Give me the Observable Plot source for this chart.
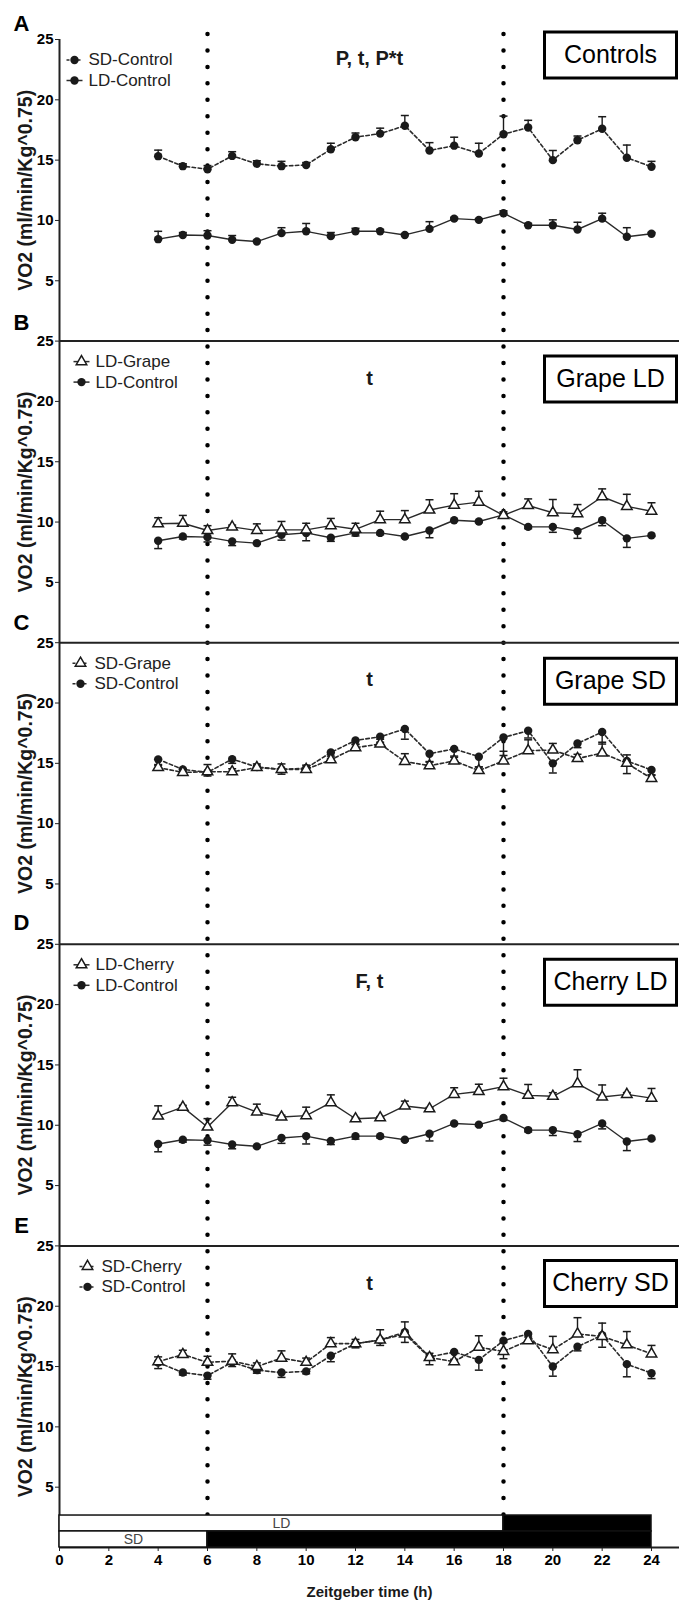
<!DOCTYPE html>
<html>
<head>
<meta charset="utf-8">
<script src="https://cdn.jsdelivr.net/npm/d3@7"></script>
<script src="https://cdn.jsdelivr.net/npm/@observablehq/plot@0.6"></script>
<style>
  html, body { margin: 0; padding: 0; background: #fff; }
  #chart svg { display: block; }
</style>
</head>
<body>
<div id="chart"></div>
<script>
// ---------- data ----------
const hours = [4,5,6,7,8,9,10,11,12,13,14,15,16,17,18,19,20,21,22,23,24];

const sdControl    = [15.33,14.5,14.25,15.35,14.7,14.5,14.6,15.9,16.9,17.2,17.85,15.8,16.2,15.55,17.15,17.7,15.0,16.65,17.6,15.2,14.45];
const sdControlSem = [0.5,0.2,0.3,0.35,0.25,0.4,0.2,0.5,0.35,0.45,0.85,0.65,0.7,0.85,1.5,0.6,0.8,0.35,1.0,1.05,0.45];

const ldControl    = [8.45,8.8,8.75,8.4,8.25,8.95,9.1,8.7,9.1,9.1,8.8,9.3,10.15,10.05,10.6,9.6,9.6,9.25,10.15,8.65,8.9];
const ldControlSem = [0.65,0.2,0.4,0.35,0.1,0.45,0.65,0.3,0.25,0.15,0.1,0.6,0.1,0.1,0.2,0.15,0.45,0.6,0.45,0.75,0.1];

const ldGrape    = [9.86,9.9,9.3,9.6,9.3,9.35,9.35,9.7,9.4,10.2,10.2,11.0,11.4,11.65,10.55,11.37,10.77,10.7,12.1,11.3,10.9];
const ldGrapeSem = [0.5,0.65,0.4,0.15,0.55,0.7,0.55,0.6,0.5,0.7,0.75,0.85,0.95,0.9,0.3,0.55,1.1,0.75,0.65,1.0,0.7];

const sdGrape    = [14.65,14.25,14.3,14.3,14.65,14.5,14.5,15.3,16.3,16.6,15.15,14.8,15.2,14.4,15.2,16.05,16.1,15.4,15.85,15.0,13.75];
const sdGrapeSem = [0.25,0.3,0.6,0.25,0.3,0.45,0.35,0.3,0.3,0.4,0.65,0.3,0.4,0.3,0.8,0.9,0.55,0.35,0.9,0.7,0.3];

const ldCherry    = [10.76,11.5,9.85,11.87,11.1,10.68,10.8,11.87,10.54,10.62,11.6,11.37,12.56,12.8,13.2,12.48,12.4,13.45,12.34,12.56,12.25];
const ldCherrySem = [0.85,0.15,0.7,0.45,0.65,0.15,0.7,0.65,0.1,0.1,0.4,0.1,0.55,0.6,0.7,0.9,0.3,1.15,1.0,0.15,0.8];

const sdCherry    = [15.4,16.0,15.35,15.45,15.0,15.7,15.35,16.9,16.9,17.2,17.7,15.75,15.4,16.6,16.25,17.15,16.4,17.7,17.5,16.8,16.05];
const sdCherrySem = [0.4,0.35,0.5,0.6,0.3,0.6,0.35,0.5,0.35,0.85,1.0,0.35,0.2,0.95,0.75,0.3,1.1,1.35,1.1,1.1,0.7];

const panelIds    = ["A","B","C","D","E"];
const panelTitles = ["Controls","Grape LD","Grape SD","Cherry LD","Cherry SD"];
const panelStats  = ["P, t, P*t","t","t","F, t","t"];
const yTicks = [5,10,15,20,25];
const xTicks = [0,2,4,6,8,10,12,14,16,18,20,22,24];
const yLabel = "VO2 (ml/min/Kg^0.75)";
const xLabel = "Zeitgeber time (h)";
const lightOnsets = [6, 18];              // dotted reference lines (h)
const photoperiods = [                    // light / dark bars
  {label: "LD", lightEnd: 18, end: 24},
  {label: "SD", lightEnd: 6,  end: 24}
];

// ---------- configuration ----------
function S(name, values, sem, sym, dashed, dir) { return {name, values, sem, sym, dashed, dir}; }
const panels = [
  {id: "A", series: [S("SD-Control", sdControl, sdControlSem, "circle", true, 1),
                     S("LD-Control", ldControl, ldControlSem, "circle", false, 1)]},
  {id: "B", series: [S("LD-Grape", ldGrape, ldGrapeSem, "triangle", false, 1),
                     S("LD-Control", ldControl, ldControlSem, "circle", false, -1)]},
  {id: "C", series: [S("SD-Grape", sdGrape, sdGrapeSem, "triangle", true, 1),
                     S("SD-Control", sdControl, sdControlSem, "circle", true, -1)]},
  {id: "D", series: [S("LD-Cherry", ldCherry, ldCherrySem, "triangle", false, 1),
                     S("LD-Control", ldControl, ldControlSem, "circle", false, -1)]},
  {id: "E", series: [S("SD-Cherry", sdCherry, sdCherrySem, "triangle", true, 1),
                     S("SD-Control", sdControl, sdControlSem, "circle", true, -1)]}
];

const rows = panels.flatMap(p => p.series.flatMap(s => hours.map((h, i) => ({
  panel: p.id, key: p.id + "|" + s.name, name: s.name, hour: h,
  value: s.values[i], sem: s.sem[i], dir: s.dir, dashed: s.dashed, sym: s.sym
}))));

const W = 679, H = 1601, ML = 59, MR = 0, MT = 39, MB = 54;
const facetH = (H - MT - MB) / panelIds.length;
const pxPerUnit = facetH / 25;
const ldBand = [1.33, 2.65], sdBand = [0, 1.33];
const INK = "#1a1a1a";
const FONT = "'Liberation Sans', Arial, Helvetica, sans-serif";
const DOT_PERIOD = 16.45, DOT_OVERSHOOT = 5;

// custom symbols
const capSymbol = {draw(ctx, size) { const w = Math.sqrt(size / Math.PI); ctx.moveTo(-w, 0); ctx.lineTo(w, 0); }};
const boxSymbol = {draw(ctx) { ctx.rect(-66, -23, 132, 46); }};

// bars
const barRows = photoperiods.flatMap((p, i) => {
  const band = i === 0 ? ldBand : sdBand;
  return [
    {panel: "E", x1: 0, x2: p.lightEnd, y1: band[0], y2: band[1], fill: "white"},
    {panel: "E", x1: p.lightEnd, x2: p.end, y1: band[0], y2: band[1], fill: "black"}
  ];
});
const barLabels = photoperiods.map((p, i) => {
  const band = i === 0 ? ldBand : sdBand;
  return {panel: "E", x: p.lightEnd / 2, y: (band[0] + band[1]) / 2, label: p.label};
});

// ---------- marks ----------
const marks = [];

// dotted vertical reference lines, one segment per panel with a continuous dot phase
panelIds.forEach((id, i) => {
  const isLast = i === panelIds.length - 1;
  const top = i === 0 ? 25 + DOT_OVERSHOOT / pxPerUnit : 25;
  const segs = lightOnsets.map((h, k) => ({
    panel: id, x: h, top,
    bottom: isLast ? (k === 0 ? sdBand[1] : ldBand[1]) : 0
  }));
  const offset = i === 0 ? 0 : (DOT_OVERSHOOT + i * facetH) % DOT_PERIOD;
  marks.push(Plot.ruleX(segs, {fy: "panel", x: "x", y1: "top", y2: "bottom", stroke: "black",
    strokeWidth: 4.5, strokeDasharray: `0 ${DOT_PERIOD}`, strokeDashoffset: offset, strokeLinecap: "round"}));
});

// axes lines
marks.push(Plot.ruleY([0], {stroke: "#222", strokeWidth: 2}));
marks.push(Plot.ruleX([0], {stroke: "#222", strokeWidth: 2}));

// y axis per panel
marks.push(Plot.axisY({ticks: yTicks, tickSize: 4, tickPadding: 2, fontSize: 15, fontWeight: "bold",
  label: null, tickFormat: d => d, stroke: "#222"}));
// x axis on bottom panel
marks.push(Plot.axisX({ticks: xTicks, tickSize: 4, tickPadding: 3, fontSize: 15, fontWeight: "bold",
  label: null, tickFormat: d => d, stroke: "#222"}));

// light/dark bars
marks.push(Plot.rect(barRows, {fy: "panel", x1: "x1", x2: "x2", y1: "y1", y2: "y2", fill: "fill",
  stroke: "#111", strokeWidth: 1.5}));
marks.push(Plot.text(barLabels, {fy: "panel", x: "x", y: "y", text: "label", fill: "#444",
  fontSize: 14, fontWeight: "normal"}));

// data lines
marks.push(Plot.line(rows.filter(d => !d.dashed), {fy: "panel", x: "hour", y: "value", z: "key",
  stroke: "#2a2a2a", strokeWidth: 1.4}));
marks.push(Plot.line(rows.filter(d => d.dashed), {fy: "panel", x: "hour", y: "value", z: "key",
  stroke: "#2a2a2a", strokeWidth: 1.6, strokeDasharray: "3.5,2.5"}));

// error bars
marks.push(Plot.ruleX(rows, {fy: "panel", x: "hour", y1: "value", y2: d => d.value + d.dir * d.sem,
  stroke: INK, strokeWidth: 1.4}));
marks.push(Plot.dot(rows, {fy: "panel", x: "hour", y: d => d.value + d.dir * d.sem, symbol: capSymbol,
  r: 4, fill: "none", stroke: INK, strokeWidth: 1.5}));

// markers
marks.push(Plot.dot(rows.filter(d => d.sym === "circle"), {fy: "panel", x: "hour", y: "value",
  r: 4.2, fill: INK, stroke: "none"}));
marks.push(Plot.dot(rows.filter(d => d.sym === "triangle"), {fy: "panel", x: "hour", y: "value",
  symbol: "triangle", r: 3.9, fill: "white", stroke: INK, strokeWidth: 1.5}));

// per-panel annotations
const legendX = {A: 15, B: 22, C: 21, D: 22, E: 28};
const statsDy = {A: 19, B: 37, C: 37, D: 37, E: 38};
const boxDy   = {A: 15.5, B: 38, C: 38.5, D: 38, E: 37.5};
const letterDy = {A: -16, B: -18, C: -20, D: -21, E: -20};
const T = {lineAnchor: "middle"};

panels.forEach((p, pi) => {
  const datum = [{panel: p.id}];
  marks.push(Plot.text(datum, {...T, fy: "panel", frameAnchor: "top-left", dx: -38, dy: letterDy[p.id],
    textAnchor: "middle", text: () => p.id, fontSize: 22, fontWeight: "bold", fill: "black"}));
  marks.push(Plot.text(datum, {...T, fy: "panel", frameAnchor: "left", dx: -34, rotate: -90,
    textAnchor: "middle", text: () => yLabel, fontSize: 19.5, fontWeight: "bold", fill: INK}));
  marks.push(Plot.text(datum, {...T, fy: "panel", frameAnchor: "top-left", dx: 310, dy: statsDy[p.id],
    textAnchor: "middle", text: () => panelStats[pi], fontSize: 20, fontWeight: "bold", fill: INK}));
  marks.push(Plot.dot(datum, {fy: "panel", frameAnchor: "top-left", dx: 551, dy: boxDy[p.id],
    symbol: boxSymbol, r: 10, fill: "white", stroke: "black", strokeWidth: 3}));
  marks.push(Plot.text(datum, {...T, fy: "panel", frameAnchor: "top-left", dx: 551, dy: boxDy[p.id],
    textAnchor: "middle", text: () => panelTitles[pi], fontSize: 25, fontWeight: "normal", fill: "black"}));
  p.series.forEach((s, si) => {
    const dy = si === 0 ? 20.5 : 41;
    marks.push(Plot.dot(datum, {fy: "panel", frameAnchor: "top-left", dx: legendX[p.id], dy,
      symbol: capSymbol, r: 8, fill: "none", stroke: "#2a2a2a", strokeWidth: 1.5,
      strokeDasharray: s.dashed ? "3,2.5" : null}));
    marks.push(Plot.dot(datum, {fy: "panel", frameAnchor: "top-left", dx: legendX[p.id], dy,
      symbol: s.sym, r: s.sym === "circle" ? 4.2 : 3.9,
      fill: s.sym === "circle" ? INK : "white", stroke: s.sym === "circle" ? "none" : INK, strokeWidth: 1.5}));
    marks.push(Plot.text(datum, {...T, fy: "panel", frameAnchor: "top-left", dx: legendX[p.id] + 14, dy,
      text: () => s.name, textAnchor: "start", fontSize: 17, fontWeight: "normal", fill: "#222"}));
  });
});

// x title
marks.push(Plot.text([{panel: "E"}], {...T, fy: "panel", frameAnchor: "bottom", dy: 45,
  textAnchor: "middle", text: () => xLabel, fontSize: 15, fontWeight: "bold", fill: INK}));

const chart = Plot.plot({
  width: W, height: H,
  marginLeft: ML, marginRight: MR, marginTop: MT, marginBottom: MB,
  style: {fontFamily: FONT, background: "white", overflow: "visible"},
  x: {domain: [0, 24], range: [ML, 651]},
  y: {domain: [0, 25]},
  fy: {domain: panelIds, padding: 0, axis: null, round: false},
  marks
});
document.getElementById("chart").appendChild(chart);
</script>
</body>
</html>
